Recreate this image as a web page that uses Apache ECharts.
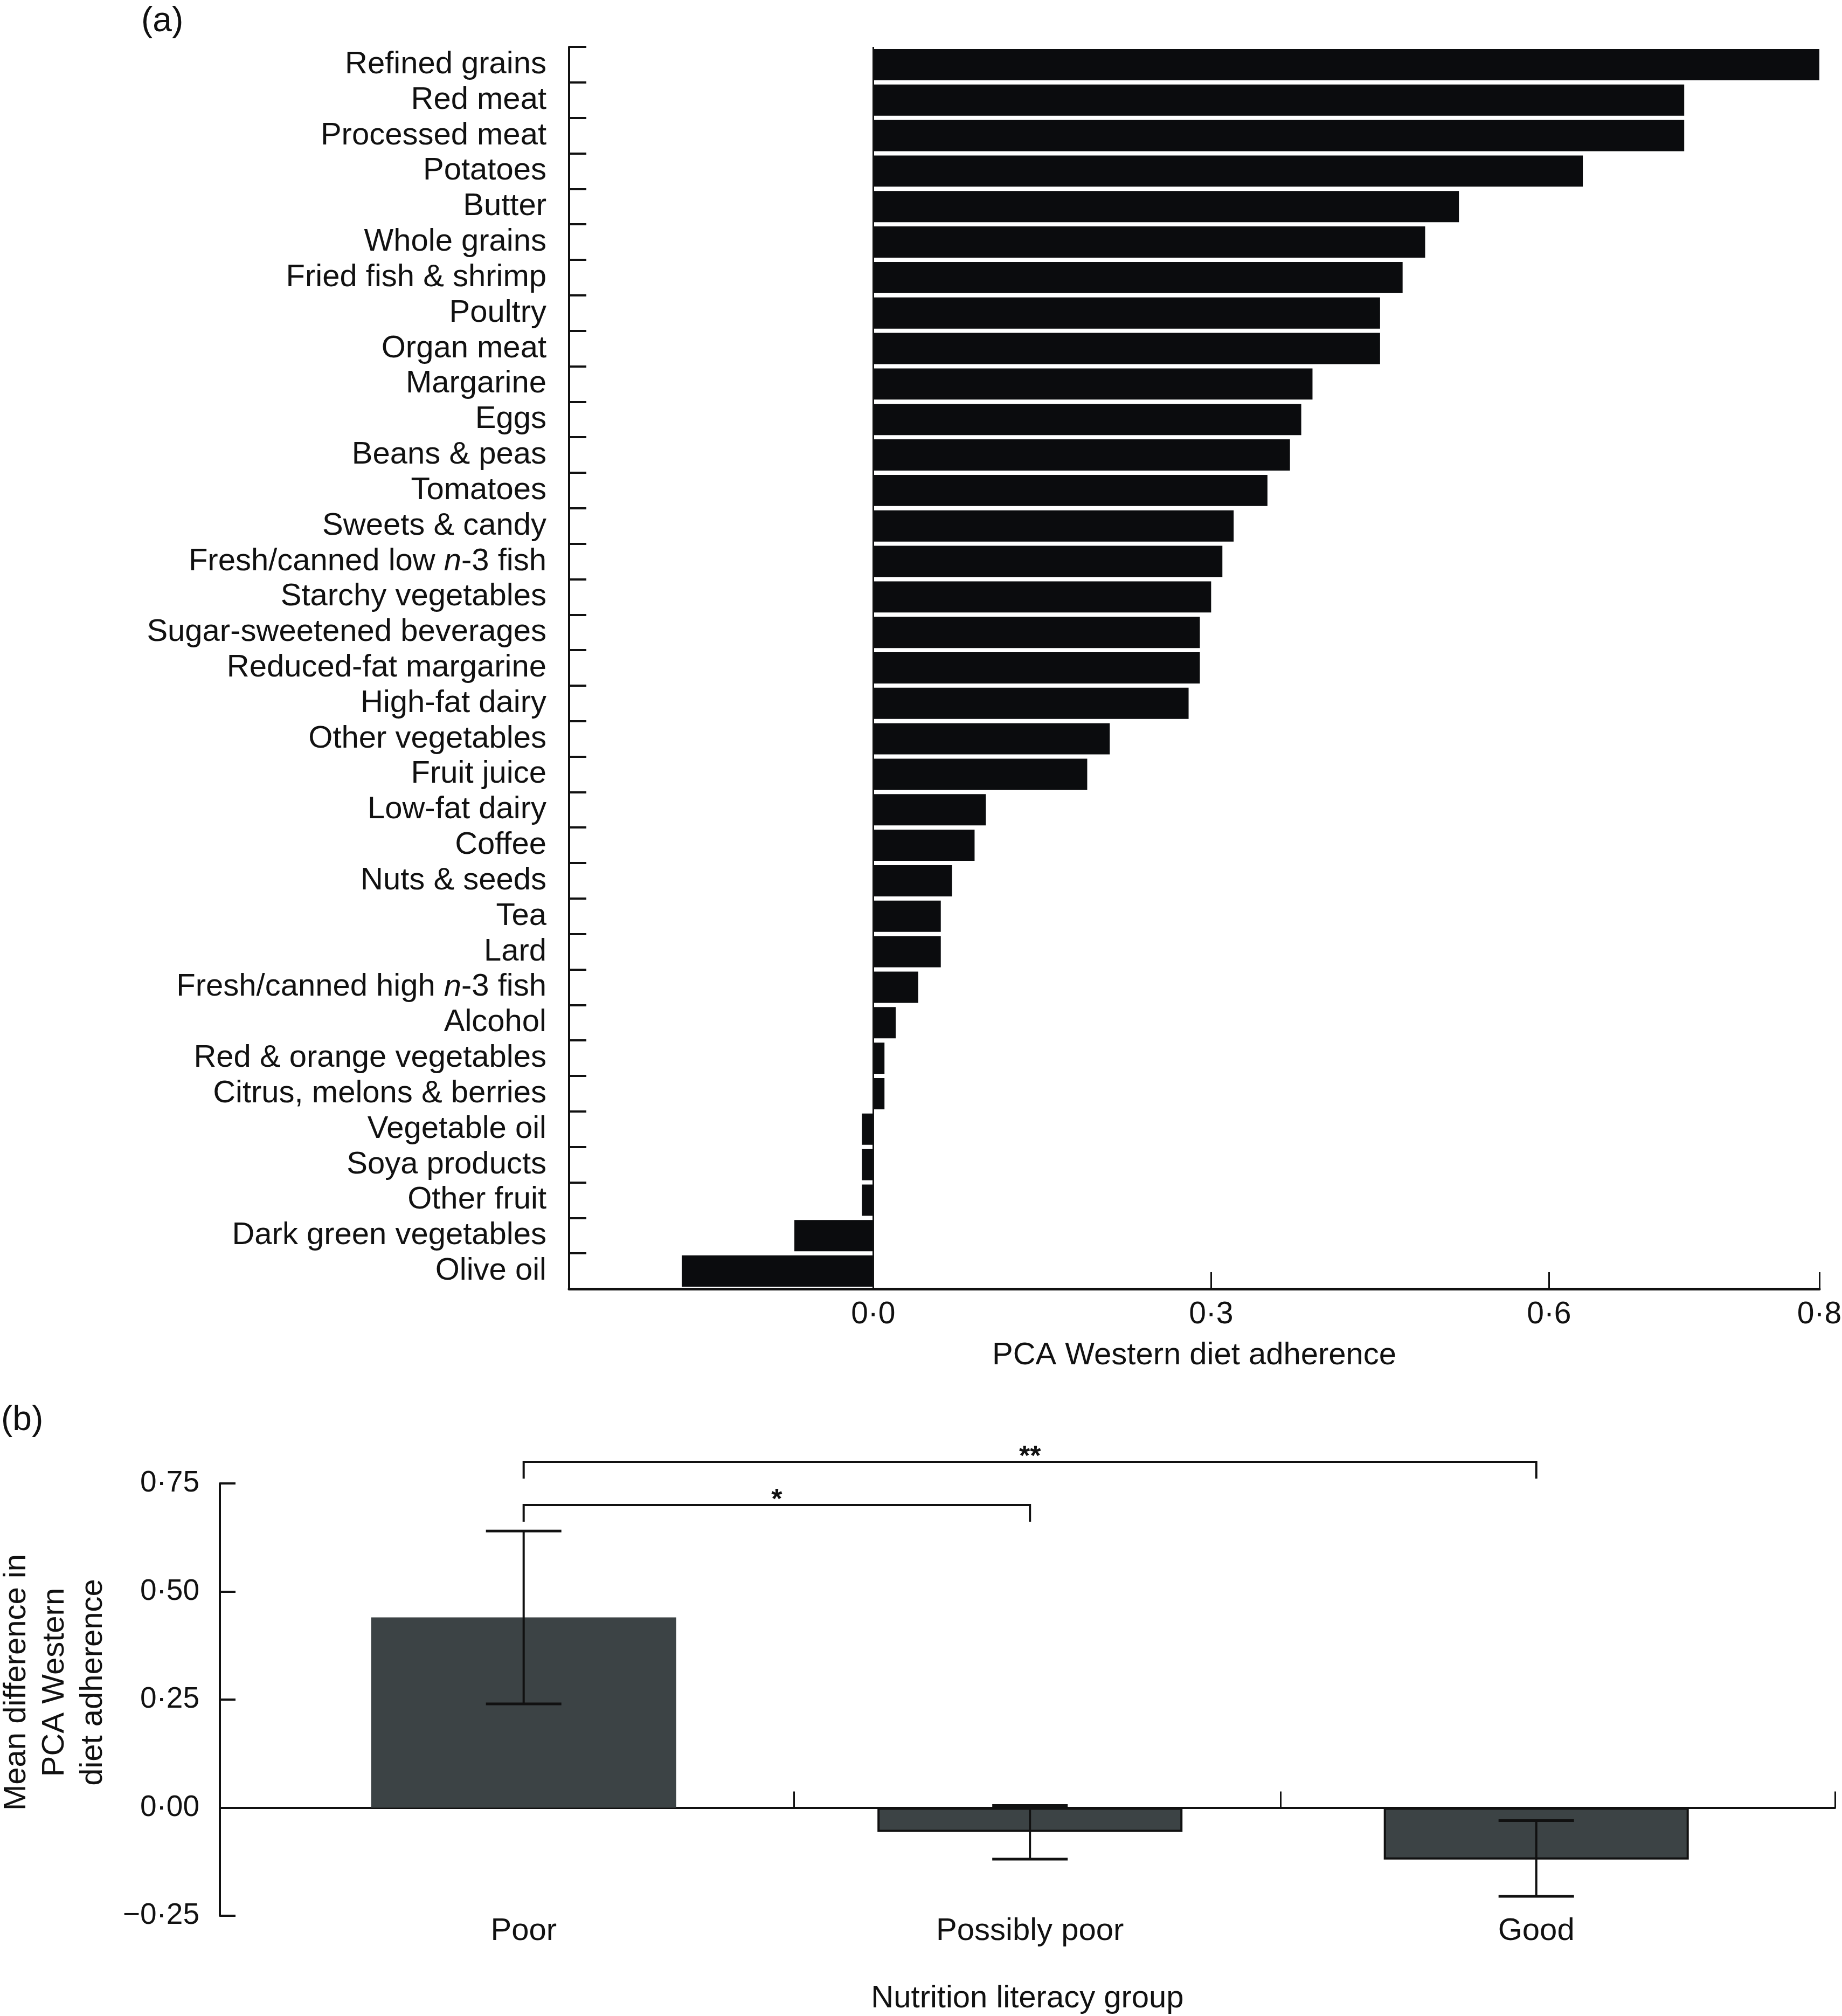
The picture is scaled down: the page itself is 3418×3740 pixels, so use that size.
<!DOCTYPE html>
<html>
<head>
<meta charset="utf-8">
<script src="https://cdn.jsdelivr.net/npm/echarts@6/dist/echarts.min.js"></script>
<style>
html,body{margin:0;padding:0;background:#fff;}
#chart{width:3418px;height:3740px;}
</style>
</head>
<body>
<div id="chart"></div>
<script>
// ---- Panel (a) data ----
const foods = ['Refined grains','Red meat','Processed meat','Potatoes','Butter','Whole grains','Fried fish & shrimp','Poultry','Organ meat','Margarine','Eggs','Beans & peas','Tomatoes','Sweets & candy','Fresh/canned low n-3 fish','Starchy vegetables','Sugar-sweetened beverages','Reduced-fat margarine','High-fat dairy','Other vegetables','Fruit juice','Low-fat dairy','Coffee','Nuts & seeds','Tea','Lard','Fresh/canned high n-3 fish','Alcohol','Red & orange vegetables','Citrus, melons & berries','Vegetable oil','Soya products','Other fruit','Dark green vegetables','Olive oil'];
const loadings = [0.84,0.72,0.72,0.63,0.52,0.49,0.47,0.45,0.45,0.39,0.38,0.37,0.35,0.32,0.31,0.30,0.29,0.29,0.28,0.21,0.19,0.10,0.09,0.07,0.06,0.06,0.04,0.02,0.01,0.01,-0.01,-0.01,-0.01,-0.07,-0.17];
const xTicksA = [0, 0.3, 0.6, 0.84];

// ---- Panel (b) data ----
const groups = ['Poor','Possibly poor','Good'];
const meanDiff = [0.44, -0.056, -0.12];
const ciLow = [0.24, -0.119, -0.205];
const ciHigh = [0.64, 0.005, -0.03];
const xTicksB = [0.534, 1.495, 2.59];
const sigPairs = [[0,1],[0,2]];
const sigLevels = [0.70, 0.80];
const sigLabels = ['*','**'];

const FONT = '"Liberation Sans", Arial, Helvetica, sans-serif';
const INK = '#111111';

const chart = echarts.init(document.getElementById('chart'), null, {renderer:'canvas'});

function dot(v, d){ return (v < 0 ? '\u2212' : '') + Math.abs(v).toFixed(d).replace('.', '\u00b7'); }

const option = {
  backgroundColor: '#ffffff',
  animation: false,
  textStyle: {fontFamily: FONT, color: INK},
  graphic: [
    {type:'text', left: 262, top: 8, style:{text:'(a)', fontSize: 64, fontFamily: FONT, fill: INK}},
    {type:'text', left: 2, top: 2603, style:{text:'(b)', fontSize: 64, fontFamily: FONT, fill: INK}}
  ],
  grid: [
    {left: 1056, right: 42, top: 87, bottom: 1349, containLabel: false, outerBoundsMode: 'none'},
    {left: 408, right: 13, top: 2752, bottom: 186, containLabel: false, outerBoundsMode: 'none'}
  ],
  xAxis: [
    {
      gridIndex: 0, type: 'value', min: -0.27, max: 0.84,
      axisLine: {show: true, onZero: false, lineStyle: {color: INK, width: 5}},
      axisTick: {show: true, inside: true, length: 31, customValues: xTicksA, lineStyle: {color: INK, width: 3}},
      axisLabel: {show: true, customValues: xTicksA, margin: 20, fontSize: 57, fontFamily: FONT, color: INK,
        formatter: v => dot(v, 1)},
      splitLine: {show: false},
      name: 'PCA Western diet adherence', nameLocation: 'middle', nameGap: 95,
      nameTextStyle: {fontSize: 58, fontFamily: FONT, color: INK}
    },
    {
      gridIndex: 1, type: 'value', min: -0.6, max: 2.59,
      axisLine: {show: true, onZero: true, lineStyle: {color: INK, width: 4}},
      axisTick: {show: true, inside: true, length: 30, customValues: xTicksB, lineStyle: {color: INK, width: 3}},
      axisLabel: {show: true, customValues: [0,1,2], margin: 0, fontSize: 58, fontFamily: FONT, color: INK,
        formatter: v => groups[Math.round(v)]},
      splitLine: {show: false},
      name: 'Nutrition literacy group', nameLocation: 'middle', nameGap: 125,
      nameTextStyle: {fontSize: 58, fontFamily: FONT, color: INK}
    }
  ],
  yAxis: [
    {
      gridIndex: 0, type: 'category', data: foods, inverse: true,
      axisLine: {show: true, onZero: false, lineStyle: {color: INK, width: 4}},
      axisTick: {show: true, inside: true, length: 32, alignWithLabel: false, lineStyle: {color: INK, width: 4}},
      axisLabel: {show: true, margin: 42, fontSize: 58, fontFamily: FONT, color: INK, interval: 0,
        formatter: function (v) {
          const m = v.match(/^(.*) n-3 (.*)$/);
          if (m) return '{t|' + m[1] + ' }{i|n}{t|-3 ' + m[2] + '}';
          return '{t|' + v + '}';
        },
        rich: {
          t: {fontSize: 58, fontFamily: FONT, color: INK},
          i: {fontSize: 58, fontFamily: FONT, color: INK, fontStyle: 'italic'}
        }
      },
      splitLine: {show: false}
    },
    {
      gridIndex: 1, type: 'value', min: -0.25, max: 0.75, interval: 0.25,
      axisLine: {show: true, onZero: false, lineStyle: {color: INK, width: 4}},
      axisTick: {show: true, inside: true, length: 29, lineStyle: {color: INK, width: 4}},
      axisLabel: {show: true, margin: 38, fontSize: 55, fontFamily: FONT, color: INK,
        formatter: v => dot(v, 2)},
      splitLine: {show: false},
      name: 'Mean difference in\nPCA Western\ndiet adherence', nameLocation: 'middle', nameGap: 200,
      nameTextStyle: {fontSize: 58, lineHeight: 71, fontFamily: FONT, color: INK, align: 'center', padding: [0,0,0,64]}
    }
  ],
  series: [
    {
      type: 'bar', xAxisIndex: 0, yAxisIndex: 0,
      data: loadings,
      barCategoryGap: '12%',
      itemStyle: {color: '#0b0c0e'},
      markLine: {
        silent: true, symbol: 'none',
        label: {show: false},
        lineStyle: {color: INK, width: 3, type: 'solid'},
        data: [{xAxis: 0}]
      }
    },
    {
      type: 'bar', xAxisIndex: 1, yAxisIndex: 1,
      barWidth: 566,
      data: meanDiff.map((v, i) => ({
        value: [i, v],
        itemStyle: i === 0 ? {borderWidth: 0} : {borderColor: INK, borderWidth: 4}
      })),
      itemStyle: {color: '#3c4345'}
    },
    {
      type: 'custom', xAxisIndex: 1, yAxisIndex: 1,
      data: groups.map((g, i) => [i, ciLow[i], ciHigh[i]]),
      z: 5,
      renderItem: function (params, api) {
        const x = api.value(0);
        const lo = api.coord([x, api.value(1)]);
        const hi = api.coord([x, api.value(2)]);
        const hw = 70;
        const st = {stroke: INK, lineWidth: 5};
        return {type: 'group', children: [
          {type: 'line', shape: {x1: lo[0], y1: lo[1], x2: hi[0], y2: hi[1]}, style: {stroke: INK, lineWidth: 4}},
          {type: 'line', shape: {x1: lo[0]-hw, y1: lo[1], x2: lo[0]+hw, y2: lo[1]}, style: st},
          {type: 'line', shape: {x1: hi[0]-hw, y1: hi[1], x2: hi[0]+hw, y2: hi[1]}, style: st}
        ]};
      }
    },
    {
      type: 'custom', xAxisIndex: 1, yAxisIndex: 1, clip: false,
      data: sigPairs.map((p, k) => [p[0], p[1], sigLevels[k], k]),
      z: 6,
      renderItem: function (params, api) {
        const a = api.coord([api.value(0), api.value(2)]);
        const b = api.coord([api.value(1), api.value(2)]);
        const leg = 31;
        const k = api.value(3);
        return {type: 'group', children: [
          {type: 'polyline', shape: {points: [[a[0], a[1]+leg], [a[0], a[1]], [b[0], b[1]], [b[0], b[1]+leg]]},
            style: {stroke: INK, lineWidth: 4, fill: null}},
          {type: 'text', x: (a[0]+b[0])/2, y: a[1] + 18,
            style: {text: sigLabels[k], fontSize: 52, fontWeight: 'bold', fontFamily: FONT, fill: INK, align: 'center', verticalAlign: 'bottom'}}
        ]};
      }
    }
  ]
};
chart.setOption(option);
</script>
</body>
</html>
